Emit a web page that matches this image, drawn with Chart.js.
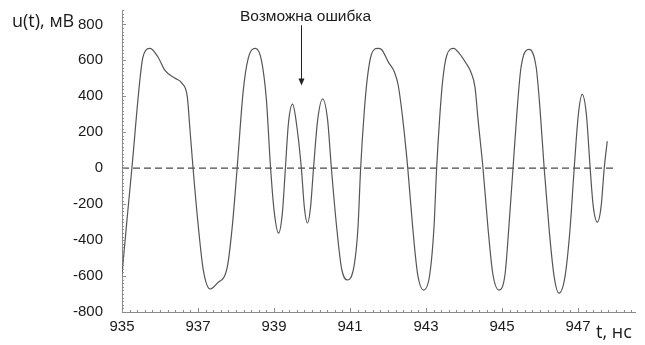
<!DOCTYPE html>
<html lang="ru">
<head>
    <meta charset="UTF-8">
    <title>u(t)</title>
    <script src="https://cdn.jsdelivr.net/npm/chart.js"></script>
    <style>
        html, body {
            margin: 0;
            padding: 0;
            background: #fff;
        }
        .wrap {
            width: 645px;
            height: 345px;
        }
    </style>
</head>
<body>
    <div class="wrap"><canvas id="signal-chart" width="645" height="345"></canvas></div>

    <script>
        // Signal: time in ns, voltage in mV
        const timeNs = [
            935.00, 935.13, 935.26, 935.47, 935.55, 935.74, 935.95, 936.13, 936.40, 936.58,
            936.72, 936.79, 936.87, 937.01, 937.14, 937.32, 937.51, 937.77, 937.90, 938.03,
            938.19, 938.32, 938.51, 938.67, 938.80, 938.91, 939.01, 939.12, 939.22, 939.30,
            939.38, 939.49, 939.59, 939.72, 939.80, 939.88, 939.96, 940.04, 940.15, 940.28,
            940.41, 940.51, 940.65, 940.78, 940.94, 941.11, 941.21, 941.28, 941.37, 941.45,
            941.56, 941.73, 941.83, 942.01, 942.17, 942.27, 942.39, 942.52, 942.65, 942.78,
            942.94, 943.10, 943.21, 943.28, 943.36, 943.44, 943.55, 943.73, 943.87, 944.05,
            944.18, 944.29, 944.37, 944.50, 944.63, 944.76, 944.92, 945.08, 945.18, 945.29,
            945.40, 945.50, 945.71, 945.90, 946.00, 946.11, 946.24, 946.37, 946.50, 946.66,
            946.79, 946.90, 947.01, 947.11, 947.22, 947.32, 947.40, 947.51, 947.61, 947.69,
            947.77
        ];
        const voltageMv = [
            -590, -290, 0, 490, 617, 667, 617, 544, 500, 472,
            394, 211, 0, -328, -567, -672, -639, -550, -328, 0,
            430, 610, 667, 600, 380, 0, -250, -361, -250, 0,
            250, 356, 250, 0, -220, -305, -220, 0, 270, 385,
            270, 0, -330, -560, -622, -540, -330, 0, 300, 490,
            630, 667, 660, 590, 535, 460, 270, 0, -330, -590,
            -678, -590, -330, 0, 280, 490, 630, 667, 640, 585,
            535, 450, 270, 0, -330, -590, -678, -590, -330, 0,
            330, 560, 661, 560, 330, 0, -340, -600, -695, -600,
            -340, 0, 300, 411, 300, 0, -210, -300, -210, 0,
            150
        ];

        // dashed zero level
        const zeroLineT = [935, 948];
        const zeroLineU = [0, 0];

        // tick labels
        const xTicks = [935, 937, 939, 941, 943, 945, 947];
        const yTicks = [-800, -600, -400, -200, 0, 200, 400, 600, 800];

        // annotation arrow
        const arrowText = 'Возможна ошибка';
        const arrowT = 939.7;
        const arrowFromU = 795;
        const arrowToU = 460;

        const xMin = 935, xMax = 948.5;
        const yMin = -800, yMax = 880;

        const axisColor = '#8c8c8c';
        const textColor = '#1a1a1a';

        // inward minor ticks, the annotation and the axis titles
        const extras = {
            id: 'extras',
            afterDraw(chart) {
                const ctx = chart.ctx;
                const xs = chart.scales.x;
                const ys = chart.scales.y;
                const area = chart.chartArea;
                ctx.save();
                ctx.strokeStyle = axisColor;
                ctx.lineWidth = 1;

                ctx.beginPath();
                for (let i = 0; i <= 67; i++) {
                    const v = xMin + i * 0.2;
                    const px = Math.round(xs.getPixelForValue(v)) + 0.5;
                    const major = i % 10 === 0;
                    ctx.moveTo(px, area.bottom);
                    ctx.lineTo(px, area.bottom - (major ? 4 : 2));
                }
                for (let i = 0; i <= 84; i++) {
                    const v = yMin + i * 20;
                    const py = Math.round(ys.getPixelForValue(v)) + 0.5;
                    const major = i % 10 === 0;
                    ctx.moveTo(area.left, py);
                    ctx.lineTo(area.left + (major ? 4 : 2), py);
                }
                ctx.stroke();

                // arrow
                const ax = Math.round(xs.getPixelForValue(arrowT)) + 0.5;
                const ay1 = ys.getPixelForValue(arrowFromU);
                const ay2 = ys.getPixelForValue(arrowToU);
                ctx.strokeStyle = '#222';
                ctx.fillStyle = '#222';
                ctx.beginPath();
                ctx.moveTo(ax, ay1);
                ctx.lineTo(ax, ay2 - 6);
                ctx.stroke();
                ctx.beginPath();
                ctx.moveTo(ax - 3, ay2 - 7);
                ctx.lineTo(ax + 3, ay2 - 7);
                ctx.lineTo(ax, ay2);
                ctx.closePath();
                ctx.fill();

                ctx.fillStyle = textColor;
                ctx.textBaseline = 'alphabetic';
                ctx.font = '15.5px "Liberation Sans", Arial, sans-serif';
                ctx.textAlign = 'center';
                ctx.fillText(arrowText, ax + 4, 21);

                ctx.font = '18px "Open Sans", sans-serif';
                ctx.textAlign = 'left';
                ctx.fillText('u(t), мВ', 12, 27);
                ctx.fillText('t, нс', 596, 338);
                ctx.restore();
            }
        };

        new Chart(document.getElementById('signal-chart'), {
            type: 'line',
            data: {
                datasets: [
                    {
                        label: 'u(t)',
                        data: timeNs.map((t, i) => ({ x: t, y: voltageMv[i] })),
                        borderColor: '#555',
                        borderWidth: 1.2,
                        pointRadius: 0,
                        cubicInterpolationMode: 'monotone',
                        fill: false
                    },
                    {
                        label: 'zero',
                        data: zeroLineT.map((t, i) => ({ x: t, y: zeroLineU[i] })),
                        borderColor: '#4a4a4a',
                        borderWidth: 1.2,
                        borderDash: [7, 4],
                        pointRadius: 0,
                        fill: false
                    }
                ]
            },
            options: {
                responsive: false,
                animation: false,
                devicePixelRatio: 1,
                layout: { padding: { top: 10, right: 10, left: 0, bottom: 0 } },
                plugins: {
                    legend: { display: false },
                    tooltip: { enabled: false }
                },
                scales: {
                    x: {
                        type: 'linear',
                        min: xMin,
                        max: xMax,
                        afterBuildTicks: scale => { scale.ticks = xTicks.map(v => ({ value: v })); },
                        afterFit: scale => {
                            scale.height = 33;
                            scale.paddingLeft = 0;
                            scale.paddingRight = 0;
                        },
                        grid: { display: false, drawTicks: false },
                        border: { display: true, color: axisColor, width: 1 },
                        ticks: {
                            padding: 6,
                            color: textColor,
                            font: { family: '"Liberation Sans", Arial, sans-serif', size: 15 }
                        }
                    },
                    y: {
                        type: 'linear',
                        min: yMin,
                        max: yMax,
                        afterBuildTicks: scale => { scale.ticks = yTicks.map(v => ({ value: v })); },
                        afterFit: scale => {
                            scale.width = 122;
                            scale.paddingTop = 0;
                            scale.paddingBottom = 0;
                        },
                        grid: { display: false, drawTicks: false },
                        border: { display: true, color: axisColor, width: 1 },
                        ticks: {
                            padding: 19,
                            color: textColor,
                            font: { family: '"Liberation Sans", Arial, sans-serif', size: 15 }
                        }
                    }
                }
            },
            plugins: [extras]
        });
    </script>
</body>
</html>
